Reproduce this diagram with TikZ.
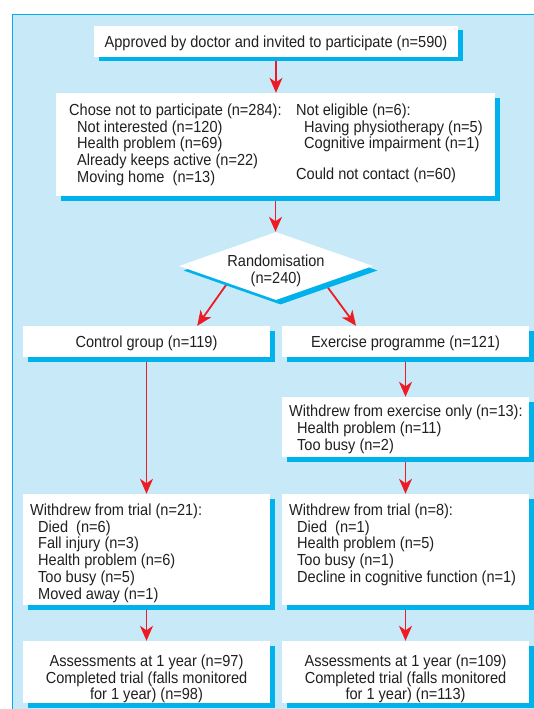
\documentclass[tikz,border=0pt]{standalone}
\usepackage{fontspec}
\setmainfont{Liberation Sans}[FakeStretch=0.91]
\usetikzlibrary{arrows.meta,shapes.geometric,shadows,calc,backgrounds}
\definecolor{panel}{HTML}{C8EAF8}
\definecolor{bordc}{HTML}{00AEEF}
\definecolor{shadowc}{HTML}{00B2EC}
\definecolor{arrred}{HTML}{ED1C24}
\definecolor{textc}{HTML}{231F20}
\begin{document}
\begin{tikzpicture}[x=1pt,y=-1pt,
  every node/.style={font=\fontsize{16}{16.8}\selectfont, text=textc},
  boxst/.style={fill=white, inner sep=0pt, draw=none,
    drop shadow={shadow xshift=4.5pt,shadow yshift=-4.5pt,fill=shadowc,opacity=1}},
  onebox/.style={boxst, minimum width=247pt, minimum height=31pt, text height=11.5pt, text depth=0pt},
  txt/.style={inner sep=0pt, align=left, anchor=north west},
  ctxt/.style={inner sep=0pt, align=center, anchor=north},
  arr/.style={draw=arrred, line width=1.8pt, -{Stealth[length=15pt,width=13pt,inset=4.5pt]}}
]
\useasboundingbox (0,0) rectangle (534,709);

% boxes
\node[boxst, minimum width=364pt, minimum height=31pt, text height=11.5pt, text depth=0pt] (b1) at (276,41.5)
  {Approved by doctor and invited to participate (n=590)};

\node[boxst, minimum width=439pt, minimum height=103pt] (b2) at (275.5,144.5) {};
\node[txt] (b2l) at (69,103.5) {Chose not to participate (n=284):\\
  \hspace*{8pt}Not interested (n=120)\\
  \hspace*{8pt}Health problem (n=69)\\
  \hspace*{8pt}Already keeps active (n=22)\\
  \hspace*{8pt}Moving home\ \ (n=13)};
\node[txt] (b2r) at (296,103.5) {Not eligible (n=6):\\
  \hspace*{8pt}Having physiotherapy (n=5)\\
  \hspace*{8pt}Cognitive impairment (n=1)};
\node[txt] (b2c) at (296,167.5) {Could not contact (n=60)};

\node[diamond, boxst, minimum width=194pt, minimum height=68pt, aspect=2.85] (rand) at (276,266) {};
\node[ctxt] (randt) at (276,254.5) {Randomisation\\(n=240)};

\node[onebox] (ctrl) at (146.5,341.5) {Control group (n=119)};
\node[onebox] (ex) at (405.5,341.5) {Exercise programme (n=121)};

\node[boxst, minimum width=247pt, minimum height=60pt] (wo) at (405.5,427) {};
\node[txt] (wot) at (289,405) {Withdrew from exercise only (n=13):\\
  \hspace*{8pt}Health problem (n=11)\\
  \hspace*{8pt}Too busy (n=2)};

\node[boxst, minimum width=247pt, minimum height=111pt] (wc) at (146.5,549.5) {};
\node[txt] (wct) at (30,503.5) {Withdrew from trial (n=21):\\
  \hspace*{8pt}Died\ \ (n=6)\\
  \hspace*{8pt}Fall injury (n=3)\\
  \hspace*{8pt}Health problem (n=6)\\
  \hspace*{8pt}Too busy (n=5)\\
  \hspace*{8pt}Moved away (n=1)};

\node[boxst, minimum width=247pt, minimum height=111pt] (we) at (405.5,549.5) {};
\node[txt] (wet) at (289,503.5) {Withdrew from trial (n=8):\\
  \hspace*{8pt}Died\ \ (n=1)\\
  \hspace*{8pt}Health problem (n=5)\\
  \hspace*{8pt}Too busy (n=1)\\
  \hspace*{8pt}Decline in cognitive function (n=1)};

\node[boxst, minimum width=247pt, minimum height=62pt] (ac) at (146.5,672) {};
\node[ctxt] (act) at (146.5,654.5) {Assessments at 1 year (n=97)\\
  Completed trial (falls monitored\\for 1 year) (n=98)};

\node[boxst, minimum width=247pt, minimum height=62pt] (ae) at (405.5,672) {};
\node[ctxt] (aet) at (405.5,654.5) {Assessments at 1 year (n=109)\\
  Completed trial (falls monitored\\for 1 year) (n=113)};

\begin{pgfonlayer}{background}
  \fill[panel] (12.5,14.5) rectangle (545,720);
  \draw[bordc, line width=1pt] (12.5,720) -- (12.5,14.5) -- (545,14.5);
  \draw[arr] (b1.south) -- (b1.south |- b2.north);
  \draw[arr] (b2.south) -- (b2.south |- rand.north);
  \draw[arr] (rand.south west) -- ($(ctrl.north)!0.41!(ctrl.north east)$);
  \draw[arr] (rand.south east) -- ($(ex.north)!0.4!(ex.north west)$);
  \draw[arr] (ctrl.south) -- (wc.north);
  \draw[arr] (ex.south) -- (wo.north);
  \draw[arr] (wo.south) -- (we.north);
  \draw[arr] (wc.south) -- (ac.north);
  \draw[arr] (we.south) -- (ae.north);
\end{pgfonlayer}
\end{tikzpicture}
\end{document}
